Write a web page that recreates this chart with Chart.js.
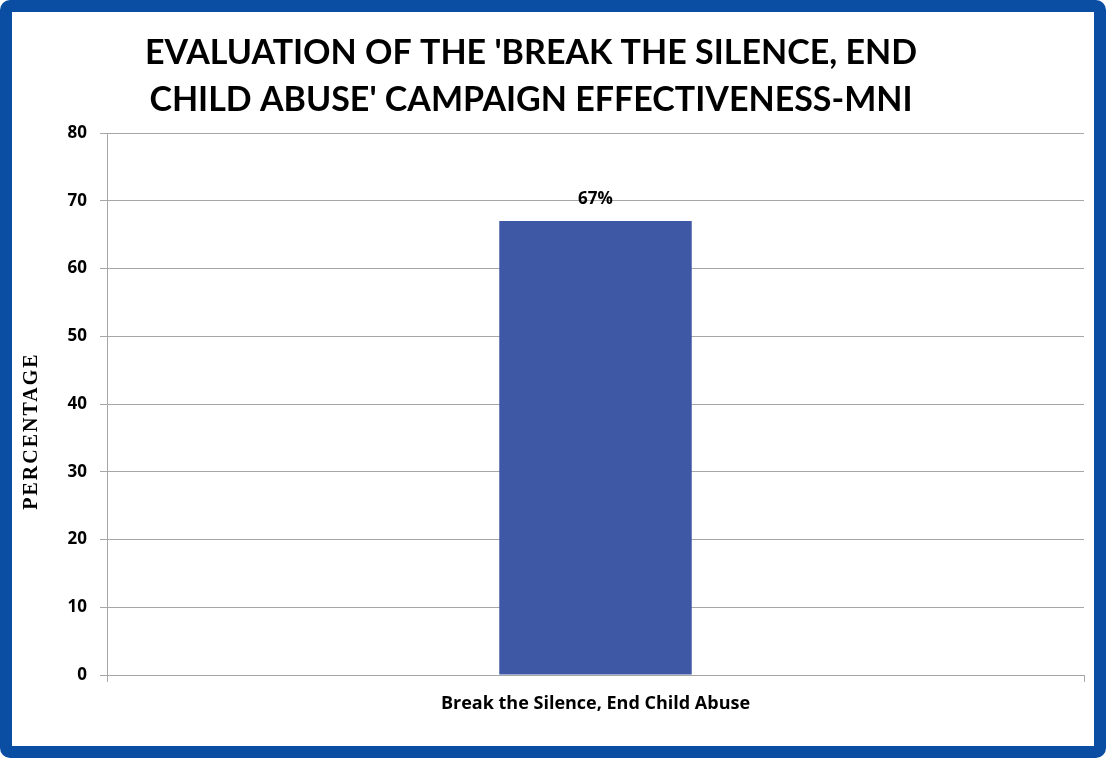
<!DOCTYPE html>
<html>
<head>
<meta charset="utf-8">
<script src="https://cdn.jsdelivr.net/npm/chart.js@4.4.0/dist/chart.umd.min.js"></script>
<style>
  html, body { margin: 0; padding: 0; background: #fff; }
  #wrap { position: relative; width: 1106px; height: 758px; }
  #frame {
    position: absolute; left: 0; top: 0; width: 1106px; height: 758px;
    box-sizing: border-box; border: 12px solid #0a4ea3; border-radius: 10px;
    pointer-events: none;
  }
  canvas { position: absolute; left: 0; top: 0; }
</style>
</head>
<body>
<div id="wrap">
  <canvas id="myChart" width="1106" height="758"></canvas>
  <div id="frame"></div>
</div>
<script>
// chart data
var categories = ["Break the Silence, End Child Abuse"];
var percentages = [67];
var titleLines = ["EVALUATION OF THE 'BREAK THE SILENCE, END", "CHILD ABUSE' CAMPAIGN EFFECTIVENESS-MNI"];
var yTitle = "PERCENTAGE";

var titleFont = "Lato, 'Open Sans', sans-serif";
var labelFont = "'Open Sans', Lato, sans-serif";

// title, y axis title and value labels
var extraText = {
  id: "extraText",
  afterDraw: function (chart) {
    var ctx = chart.ctx;
    ctx.save();
    ctx.fillStyle = "#000";
    ctx.textAlign = "center";
    ctx.textBaseline = "middle";
    ctx.font = "bold 34px " + titleFont;
    ctx.fillText(titleLines[0], 531, 53);
    ctx.fillText(titleLines[1], 531, 100);

    ctx.font = "bold 20px 'Liberation Serif', 'Times New Roman', serif";
    ctx.letterSpacing = "2px";
    ctx.translate(32, 431);
    ctx.rotate(-Math.PI / 2);
    ctx.fillText(yTitle, 0, 0);
    ctx.restore();

    ctx.save();
    ctx.font = "bold 17px " + labelFont;
    ctx.fillStyle = "#000";
    ctx.textAlign = "center";
    ctx.textBaseline = "middle";
    var meta = chart.getDatasetMeta(0);
    meta.data.forEach(function (bar, i) {
      ctx.fillText(percentages[i] + "%", bar.x, bar.y - 22);
    });
    ctx.restore();
  }
};

var ctx = document.getElementById("myChart").getContext("2d");
var myChart = new Chart(ctx, {
  type: "bar",
  data: {
    labels: categories,
    datasets: [{
      data: percentages,
      backgroundColor: "#3f58a6",
      borderWidth: 0,
      barPercentage: 0.197,
      categoryPercentage: 1
    }]
  },
  options: {
    responsive: false,
    animation: false,
    layout: { padding: { left: 0, right: 22, top: 133, bottom: 0 } },
    plugins: {
      legend: { display: false },
      title: { display: false },
      tooltip: { enabled: false }
    },
    scales: {
      x: {
        grid: { display: true, drawOnChartArea: false, color: "#a6a6a6", tickLength: 7 },
        border: { color: "#a6a6a6" },
        ticks: { color: "#000", font: { family: labelFont, size: 18, weight: "bold" }, padding: 11 },
        afterFit: function (scale) { scale.height = 83; }
      },
      y: {
        min: 0,
        max: 80,
        ticks: { stepSize: 10, color: "#000", font: { family: labelFont, size: 17, weight: "bold" }, padding: 13 },
        grid: { color: "#a6a6a6", tickLength: 7 },
        border: { color: "#a6a6a6" },
        afterFit: function (scale) { scale.width = 107; }
      }
    }
  },
  plugins: [extraText]
});
</script>
</body>
</html>
